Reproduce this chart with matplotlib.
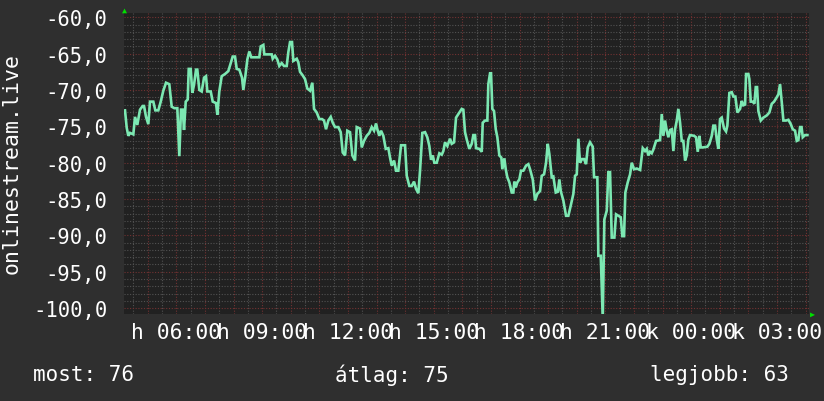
import numpy as np
import matplotlib
matplotlib.use('Agg')
import matplotlib.pyplot as plt
from matplotlib.ticker import FuncFormatter

# idő (óra, a nap eleje óta; 24 feletti = másnap) és jelszint (dBm)
hours = [4.206, 4.266, 4.322, 4.381, 4.497, 4.556, 4.636, 4.731, 4.825, 4.871, 4.941, 5.021, 5.080, 5.196,
         5.266, 5.371, 5.455, 5.545, 5.640, 5.755, 5.839, 5.930, 6.035, 6.105, 6.164, 6.224, 6.269, 6.329,
         6.399, 6.434, 6.503, 6.559, 6.619, 6.689, 6.734, 6.804, 6.888, 6.969, 7.038, 7.084, 7.203, 7.273,
         7.388, 7.434, 7.503, 7.587, 7.703, 7.818, 7.902, 7.972, 8.052, 8.112, 8.203, 8.297, 8.343, 8.413,
         8.483, 8.552, 8.622, 8.752, 8.902, 8.951, 9.042, 9.077, 9.217, 9.336, 9.371, 9.451, 9.531, 9.601,
         9.685, 9.766, 9.860, 9.916, 9.976, 10.045, 10.091, 10.210, 10.266, 10.325, 10.420, 10.500, 10.580,
         10.675, 10.755, 10.815, 10.909, 11.000, 11.094, 11.164, 11.234, 11.315, 11.399, 11.469, 11.549,
         11.664, 11.748, 11.818, 11.899, 11.979, 12.073, 12.154, 12.248, 12.308, 12.423, 12.483, 12.563,
         12.657, 12.748, 12.832, 12.913, 12.983, 13.028, 13.098, 13.157, 13.238, 13.322, 13.413, 13.472,
         13.531, 13.612, 13.682, 13.762, 13.857, 13.997, 14.056, 14.147, 14.231, 14.311, 14.381, 14.462,
         14.521, 14.601, 14.696, 14.776, 14.846, 14.906, 14.965, 15.021, 15.105, 15.196, 15.280, 15.336,
         15.395, 15.476, 15.570, 15.629, 15.710, 15.780, 15.895, 15.979, 16.035, 16.094, 16.154, 16.245,
         16.329, 16.385, 16.444, 16.479, 16.594, 16.678, 16.713, 16.794, 16.874, 16.909, 16.969, 17.003,
         17.049, 17.108, 17.168, 17.224, 17.294, 17.364, 17.399, 17.469, 17.517, 17.573, 17.643, 17.727,
         17.783, 17.818, 17.867, 17.923, 17.993, 18.052, 18.133, 18.227, 18.308, 18.367, 18.462, 18.507,
         18.542, 18.622, 18.717, 18.776, 18.857, 18.927, 18.986, 19.042, 19.126, 19.182, 19.266, 19.336,
         19.392, 19.441, 19.531, 19.626, 19.706, 19.790, 19.881, 19.941, 20.000, 20.056, 20.115, 20.185,
         20.255, 20.325, 20.385, 20.465, 20.559, 20.605, 20.720, 20.755, 20.839, 20.909, 20.965, 21.049,
         21.105, 21.164, 21.224, 21.315, 21.374, 21.455, 21.538, 21.594, 21.654, 21.699, 21.783, 21.864,
         21.923, 22.003, 22.098, 22.215, 22.308, 22.388, 22.448, 22.503, 22.563, 22.622, 22.678, 22.773,
         22.913, 22.972, 23.028, 23.087, 23.147, 23.203, 23.262, 23.322, 23.378, 23.437, 23.497, 23.552,
         23.612, 23.671, 23.727, 23.787, 23.846, 23.902, 23.962, 24.101, 24.171, 24.231, 24.287, 24.336,
         24.406, 24.566, 24.636, 24.720, 24.776, 24.836, 24.895, 24.951, 25.010, 25.070, 25.150, 25.220,
         25.266, 25.336, 25.420, 25.476, 25.545, 25.615, 25.710, 25.769, 25.825, 25.885, 25.920, 26.000,
         26.035, 26.084, 26.154, 26.210, 26.259, 26.304, 26.350, 26.434, 26.524, 26.643, 26.734, 26.818,
         26.899, 26.993, 27.049, 27.108, 27.168, 27.224, 27.318, 27.399, 27.483, 27.552, 27.633, 27.692,
         27.748, 27.808, 27.860, 27.902, 27.983, 28.063]
signal = [-72.8, -75.2, -76.3, -75.9, -76.1, -73.7, -74.8, -72.7, -72.2, -72.2, -73.7, -74.7, -71.6, -71.6,
          -72.8, -72.8, -71.6, -70.1, -69.0, -69.2, -72.3, -72.5, -72.5, -79.1, -72.7, -72.7, -75.5, -71.6,
          -71.3, -67.1, -67.1, -70.4, -69.3, -67.2, -67.2, -70.0, -70.2, -68.3, -68.1, -70.2, -70.2, -71.6,
          -71.8, -73.4, -70.2, -68.1, -67.8, -67.4, -66.3, -65.4, -65.4, -67.1, -67.2, -68.3, -70.0, -68.1,
          -65.8, -64.7, -65.5, -65.5, -65.5, -64.0, -63.8, -65.1, -65.1, -65.1, -65.7, -65.3, -65.8, -66.7,
          -66.3, -66.7, -66.7, -64.8, -63.4, -63.4, -66.0, -65.7, -66.2, -67.5, -68.0, -68.5, -69.8,
          -70.1, -69.0, -72.6, -73.1, -74.0, -74.0, -74.2, -75.4, -74.2, -73.7, -74.5, -75.1,
          -75.1, -75.8, -78.6, -79.0, -75.6, -75.8, -79.0, -79.7, -75.1, -75.3, -77.9, -77.0,
          -76.3, -75.9, -75.1, -75.6, -74.6, -75.4, -76.3, -75.6, -76.3, -78.1, -78.0, -79.3,
          -80.4, -79.7, -81.1, -81.1, -77.6, -77.6, -81.8, -83.2, -83.2, -82.6, -83.6, -84.2,
          -81.1, -75.9, -75.8, -76.5, -77.7, -79.6, -79.0, -80.0, -80.0, -78.7, -78.9, -78.4,
          -77.2, -77.7, -76.7, -77.4, -77.2, -73.8, -73.1, -72.6, -72.7, -75.8, -76.8, -78.1,
          -77.4, -76.2, -76.2, -78.0, -78.1, -78.5, -74.5, -74.2, -74.2, -69.2, -67.7, -67.7,
          -72.6, -72.9, -75.4, -76.5, -79.0, -79.3, -80.9, -79.4, -80.9, -82.0, -82.7, -84.1,
          -84.1, -82.6, -83.4, -82.7, -82.3, -81.1, -81.1, -80.4, -80.2, -80.9, -82.3, -83.9,
          -85.2, -84.3, -83.9, -81.8, -81.6, -80.0, -77.4, -78.8, -82.0, -81.9, -84.1, -84.0,
          -82.3, -83.9, -85.2, -87.3, -87.3, -85.9, -84.3, -81.8, -81.6, -76.7, -80.0, -79.5,
          -79.5, -80.2, -77.9, -77.2, -77.8, -82.0, -82.0, -92.8, -92.8, -101.5, -87.8, -86.6,
          -81.3, -81.3, -90.3, -90.3, -87.1, -87.3, -87.5, -90.1, -90.1, -84.1, -82.7, -81.6,
          -80.0, -80.9, -80.8, -81.0, -78.0, -78.4, -78.1, -79.0, -78.5, -78.7, -78.2, -77.0,
          -76.9, -73.3, -76.3, -74.2, -75.6, -76.5, -75.5, -75.4, -78.4, -75.4, -74.2, -72.6,
          -74.5, -77.0, -77.0, -79.7, -79.0, -76.8, -76.2, -76.3, -76.5, -78.5, -76.3, -77.9,
          -77.9, -77.8, -77.4, -76.3, -74.9, -74.9, -76.8, -78.1, -74.0, -73.8, -75.3, -75.7,
          -74.9, -70.4, -70.3, -70.9, -70.9, -73.1, -72.6, -71.5, -72.1, -72.0, -67.8, -67.8,
          -68.5, -71.6, -71.6, -71.9, -69.6, -69.6, -72.9, -74.2, -73.8, -73.5, -73.1, -71.9,
          -71.6, -71.0, -70.6, -69.2, -71.7, -74.2, -74.2, -74.1, -74.7, -75.4, -75.6, -77.0,
          -76.9, -75.1, -75.1, -76.5, -76.2, -76.2]

tick_hours = [6, 9, 12, 15, 18, 21, 24, 27]
tick_labels = ['h 06:00', 'h 09:00', 'h 12:00', 'h 15:00', 'h 18:00', 'h 21:00', 'k 00:00', 'k 03:00']
y_ticks = [-60, -65, -70, -75, -80, -85, -90, -95, -100]

# összesítő sor
most = 76
atlag = 75
legjobb = 63

bg = '#2f2f2f'
canvas = '#212121'
plt.rcParams['font.family'] = ['DejaVu Sans Mono', 'DejaVu Sans']

fig = plt.figure(figsize=(8.24, 4.02), dpi=100, facecolor=bg)
ax = fig.add_axes([124 / 824, 1 - 315 / 402, 685 / 824, (315 - 13.5) / 402])
ax.set_facecolor(canvas)

x0, x1 = 4.171, 28.12
y0, y1 = -100.81, -59.34
ax.set_xlim(x0, x1)
ax.set_ylim(y0, y1)

# rács: szürke finom, vörös fő vonalak
grey = dict(color='#525252', linewidth=0.8, linestyle=(0, (1, 1.5)), zorder=1)
red = dict(color='#723232', linewidth=0.8, linestyle=(0, (1, 1.5)), zorder=1.1)
for h in np.arange(4.5, 28.2, 0.5):
    ax.axvline(h, **(red if h == int(h) else grey))
for v in range(-100, -59):
    ax.axhline(v, **(red if v % 5 == 0 else grey))

ax.plot(hours, signal, color='#7ce8b2', linewidth=1.9, zorder=3, solid_joinstyle='miter')

ax.set_xticks(tick_hours)
ax.set_xticklabels(tick_labels)
ax.set_yticks(y_ticks)
ax.yaxis.set_major_formatter(FuncFormatter(lambda v, p: f'{v:.1f}'.replace('.', ',')))
ax.tick_params(colors='white', length=0)
ax.tick_params(axis='y', pad=12, labelsize=14.8)
ax.tick_params(axis='x', pad=6, labelsize=15.4)
for s in ax.spines.values():
    s.set_visible(False)

fig.text(12 / 824, 1 - 163 / 402, 'onlinestream.live', rotation=90, color='white',
         fontsize=15.5, ha='center', va='center')

# nyilak a tengelyek végén
fig.text(124 / 824, 1 - 10 / 402, '▲', color='#00e000', fontsize=6, ha='center', va='center')
fig.text(812 / 824, 1 - 314 / 402, '▶', color='#00e000', fontsize=6, ha='center', va='center')

fig.text(33 / 824, 1 - 375 / 402, f'most: {most}', color='white', fontsize=15, va='center')
fig.text(335 / 824, 1 - 375 / 402, f'átlag: {atlag}', color='white', fontsize=15, va='center')
fig.text(650 / 824, 1 - 375 / 402, f'legjobb: {legjobb}', color='white', fontsize=15, va='center')

fig.savefig('out.png', dpi=100, facecolor=bg)
